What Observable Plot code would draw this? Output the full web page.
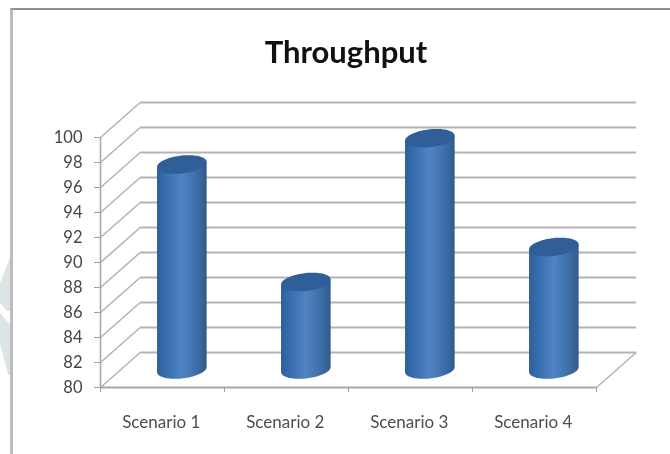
<!DOCTYPE html>
<html>
<head>
<meta charset="utf-8">
<script src="https://cdn.jsdelivr.net/npm/d3@7"></script>
<script src="https://cdn.jsdelivr.net/npm/@observablehq/plot@0.6"></script>
<style>
  html, body { margin: 0; padding: 0; background: #fff; }
  body { width: 670px; height: 454px; position: relative; overflow: hidden; }
  .wm { position: absolute; left: 0; width: 11px; background: #dde4e5; }
  #wm1 { top: 255px; height: 56px; clip-path: polygon(100% 0, 100% 100%, 60% 100%, 0 85%, 0 50%); }
  #wm2 { top: 313px; height: 62px; clip-path: polygon(0 0, 100% 20%, 100% 100%, 75% 100%, 0 50%); }
  #box { position: absolute; left: 10px; top: 8px; width: 662px; height: 450px; box-sizing: border-box;
         border-left: 3px solid #bdbdbd; border-top: 2px solid #8f8f8f; background: #fff; filter: blur(.3px); }
  #title { position: absolute; left: 0; width: 692px; top: 32px; text-align: center;
           font: bold 31px Lato, sans-serif; color: #111; line-height: 38px; filter: blur(.4px); }
  #chart { position: absolute; left: 0; top: 76px; filter: blur(.5px); }
  #chart svg { overflow: visible; background: transparent; }
</style>
</head>
<body>
<div id="wm1" class="wm"></div>
<div id="wm2" class="wm"></div>
<div id="box"></div>
<div id="title">Throughput</div>
<div id="chart"></div>
<script>
const categories = ["Scenario 1", "Scenario 2", "Scenario 3", "Scenario 4"];
const throughput = [96.4, 87, 98.5, 89.8];
const yTicks = [80, 82, 84, 86, 88, 90, 92, 94, 96, 98, 100];
const xEdges = [0, 1, 2, 3, 4];

// Perspective of the 3D box, in scale units
const depthX = 0.32, depthY = 2.8;
const rx = 0.2, ry = 0.72, tilt = 0.2;
const angles = d3.range(0, 49).map(i => Math.PI * i / 48);

const backGrid = yTicks.map(v => ({v}));
const mid = depthY / 2;
const bars = categories.map((name, i) => ({name, top: throughput[i] + mid, c: i + 0.5 + depthX / 2}));
const base = 80 + mid;

const bodyPts = bars.flatMap(b => angles.map(a => {
  const u = Math.cos(a);
  return {name: b.name, x: b.c + rx * u,
          y1: b.top + tilt * u,
          y2: base + tilt * u - ry * Math.sin(a)};
}));
const capPts = bars.flatMap(b => angles.map(a => {
  const u = Math.cos(a);
  return {name: b.name, x: b.c + rx * u,
          y1: b.top + tilt * u + ry * Math.sin(a),
          y2: b.top + tilt * u - ry * Math.sin(a)};
}));

const grey = "#b3b3b3";
const defs = () => {
  const s = d3.create("svg:defs");
  const g = s.append("linearGradient").attr("id", "cyl");
  [[0, "#2e5f98"], [0.12, "#326aa9"], [0.5, "#5083c2"], [0.8, "#3d6ea9"], [1, "#345a88"]]
    .forEach(([o, c]) => g.append("stop").attr("offset", o).attr("stop-color", c));
  return s.node();
};

const plot = Plot.plot({
  width: 670, height: 378,
  marginLeft: 100, marginRight: 74, marginTop: 61, marginBottom: 67,
  style: {background: "transparent"},
  x: {domain: [0, 4], axis: null},
  y: {domain: [80, 100], axis: null},
  marks: [
    defs,
    // back wall gridlines
    Plot.link(backGrid, {x1: depthX, x2: 4 + depthX, y1: d => d.v + depthY, y2: d => d.v + depthY,
                         stroke: grey, strokeWidth: 2}),
    // left wall diagonals
    Plot.link(backGrid, {x1: 0, x2: depthX, y1: d => d.v, y2: d => d.v + depthY,
                         stroke: grey, strokeWidth: 1.6}),
    // floor right edge
    Plot.link([{}], {x1: 4, x2: 4 + depthX, y1: 80, y2: 80 + depthY, stroke: grey, strokeWidth: 1.6}),
    // axes
    Plot.ruleY([80], {x1: 0, x2: 4, stroke: "#a8a8a8", strokeWidth: 2}),
    Plot.ruleX([0], {y1: 80, y2: 100, stroke: "#a8a8a8", strokeWidth: 1.6}),
    Plot.axisY({ticks: yTicks, anchor: "left", tickSize: 6, tickPadding: 12, label: null,
                stroke: "#a0a0a0", fill: "#444", fontSize: 16.5, fontFamily: "Lato, sans-serif"}),
    Plot.axisX({ticks: xEdges, anchor: "bottom", tickSize: 5, tickFormat: () => "", label: null, stroke: "#a0a0a0"}),
    // cylinders
    Plot.areaY(bodyPts, {x: "x", y1: "y1", y2: "y2", z: "name", fill: "url(#cyl)", curve: "linear"}),
    Plot.areaY(capPts, {x: "x", y1: "y1", y2: "y2", z: "name", fill: "#2f5e98", curve: "linear"}),
    // category labels
    Plot.text(categories, {x: (d, i) => i + 0.49, y: 80, text: d => d, dy: 35,
                           fontSize: 17, fontFamily: "Lato, sans-serif", fill: "#4d4d4d"})
  ]
});
document.getElementById("chart").append(plot);
</script>
</body>
</html>
